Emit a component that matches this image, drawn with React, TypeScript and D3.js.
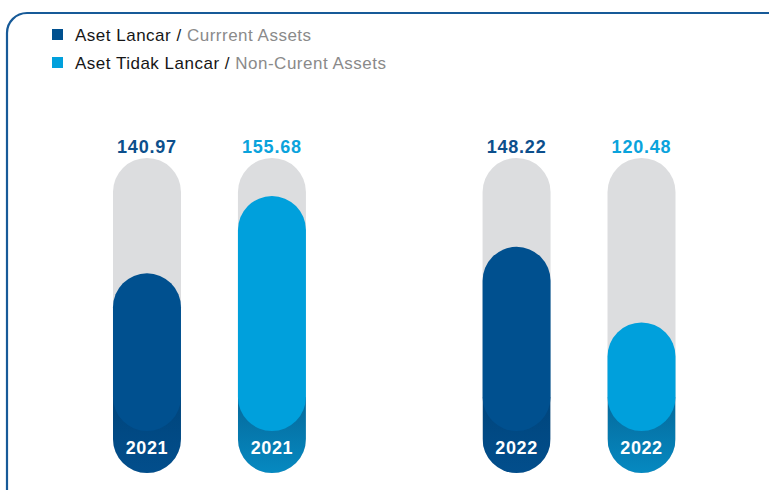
import React from "react";
import * as d3 from "d3";

// years and series
const years = ["2021", "2022"];
const seriesKeys = ["current", "nonCurrent"];
const seriesNames = ["Aset Lancar", "Aset Tidak Lancar"];
const seriesNamesEn = ["Currrent Assets", "Non-Curent Assets"];

// values (label) per year, per series
const currentValues = [140.97, 148.22];
const nonCurrentValues = [155.68, 120.48];

// fill level of each pill as drawn (% of the track), per year
const currentLevel = [63.4, 71.8];
const nonCurrentLevel = [87.9, 47.8];

const COLORS: Record<string, string> = { current: "#00508f", nonCurrent: "#00a0dc" };
const LABEL_COLORS: Record<string, string> = { current: "#0c4f8c", nonCurrent: "#0aa3dc" };
const CAP_TOP: Record<string, string> = { current: "#00457c", nonCurrent: "#05699b" };
const CAP_BOTTOM: Record<string, string> = { current: "#024e8c", nonCurrent: "#0689c1" };
const TRACK = "#dcdddf";
const FONT = "'Liberation Sans', Arial, sans-serif";

const W = 769;
const H = 490;

export default function App() {
  const trackTop = 158;
  const trackBottom = 473;
  const barW = 68;
  const r = barW / 2;

  const xYear = d3.scaleBand<string>().domain(years).range([113, 675.5]).paddingInner(0.478).paddingOuter(0);
  const xSeries = d3.scaleBand<string>().domain(seriesKeys).range([0, xYear.bandwidth()]).paddingInner(0.456).paddingOuter(0);
  const yLevel = d3.scaleLinear().domain([0, 100]).range([trackBottom, trackTop]);

  const rows = years.flatMap((yr, i) => [
    { year: yr, key: "current", value: currentValues[i], level: currentLevel[i] },
    { year: yr, key: "nonCurrent", value: nonCurrentValues[i], level: nonCurrentLevel[i] },
  ]);

  const fillBottom = trackBottom - 42;
  const capTop = fillBottom - r;
  const cxOf = (d: { year: string; key: string }) =>
    (xYear(d.year) || 0) + (xSeries(d.key) || 0) + xSeries.bandwidth() / 2;

  return (
    <svg width={W} height={H} style={{ position: "absolute", left: 0, top: 0, background: "#fff" }}>
      <defs>
        {seriesKeys.map((k) => (
          <linearGradient key={k} id={`cap-${k}`} x1="0" y1="0" x2="0" y2="1">
            <stop offset="0%" stopColor={CAP_TOP[k]} />
            <stop offset="100%" stopColor={CAP_BOTTOM[k]} />
          </linearGradient>
        ))}
        {rows.map((d, i) => {
          const cx = cxOf(d);
          return (
            <clipPath key={i} id={`track-${i}`}>
              <rect x={cx - r} y={trackTop} width={barW} height={trackBottom - trackTop} rx={r} ry={r} />
            </clipPath>
          );
        })}
      </defs>

      {/* panel border */}
      <rect x={7} y={13} width={800} height={500} rx={20} ry={20} fill="none" stroke="#175a98" strokeWidth={2.2} />

      {/* legend */}
      {seriesKeys.map((k, i) => (
        <g key={k} transform={`translate(52,${29 + i * 28})`}>
          <rect width={11} height={11} fill={COLORS[k]} />
          <text x={23} y={11.5} fontFamily={FONT} fontSize={17} letterSpacing={0.5} fill="#161616">
            {seriesNames[i]} /{" "}
            <tspan fill="#8a8a8a">{seriesNamesEn[i]}</tspan>
          </text>
        </g>
      ))}

      {rows.map((d, i) => {
        const cx = cxOf(d);
        const top = yLevel(d.level);
        return (
          <g key={i}>
            <rect x={cx - r} y={trackTop} width={barW} height={trackBottom - trackTop} rx={r} ry={r} fill={TRACK} />
            <rect
              x={cx - r}
              y={capTop}
              width={barW}
              height={trackBottom - capTop}
              fill={`url(#cap-${d.key})`}
              clipPath={`url(#track-${i})`}
            />
            <rect x={cx - r} y={top} width={barW} height={fillBottom - top} rx={r} ry={r} fill={COLORS[d.key]} />
            <text
              x={cx}
              y={trackTop - 5}
              textAnchor="middle"
              fontFamily={FONT}
              fontWeight="bold"
              fontSize={18}
              letterSpacing={0.8}
              fill={LABEL_COLORS[d.key]}
            >
              {d.value.toFixed(2)}
            </text>
            <text
              x={cx}
              y={fillBottom + 23}
              textAnchor="middle"
              fontFamily={FONT}
              fontWeight="bold"
              fontSize={18}
              letterSpacing={0.6}
              fill="#fff"
            >
              {d.year}
            </text>
          </g>
        );
      })}
    </svg>
  );
}
